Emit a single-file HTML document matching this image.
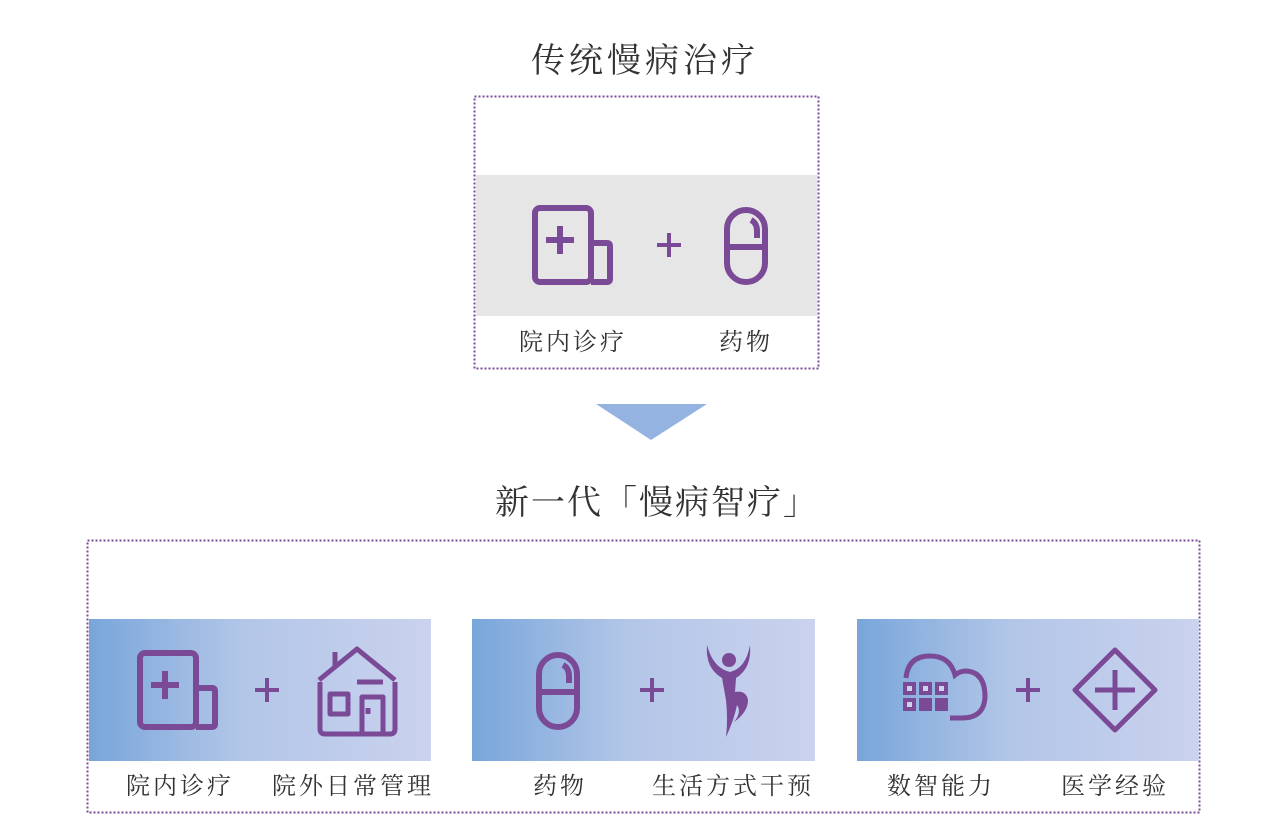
<!DOCTYPE html>
<html><head><meta charset="utf-8"><style>
html,body{margin:0;padding:0;background:#fff;}
svg{display:block}
text{font-family:"Liberation Serif","Noto Serif CJK SC","Noto Sans CJK SC",serif;fill:#333;}
</style></head><body>
<svg width="1269" height="827" viewBox="0 0 1269 827" xmlns="http://www.w3.org/2000/svg">
<defs>
<linearGradient id="g" x1="0" x2="1" y1="0" y2="0">
<stop offset="0" stop-color="#78a6da"/>
<stop offset="0.45" stop-color="#b3c6e8"/>
<stop offset="1" stop-color="#cad2ee"/>
</linearGradient>
<g id="hosp" fill="none" stroke="#7b4a97" stroke-width="6" stroke-linejoin="round">
<rect x="3" y="3" width="56" height="74" rx="5"/>
<path d="M59 38 H75 Q78 38 78 41 V74 Q78 77 75 77 H59"/>
<path d="M14 35 H42 M28 21 V49"/>
</g>
<g id="pill" fill="none" stroke="#7b4a97" stroke-width="6">
<rect x="3" y="3" width="38" height="72" rx="19"/>
<path d="M3 40 H41"/>
<path d="M27 13 Q33 16 33 24 V31"/>
</g>
</defs>
<text x="645" y="72" font-size="34" text-anchor="middle" letter-spacing="4">传统慢病治疗</text>
<rect x="474.5" y="96.5" width="344" height="272" fill="none" stroke="#7b4a97" stroke-width="2" stroke-dasharray="2 2"/>
<rect x="476" y="175" width="341" height="141" fill="#e6e6e6"/>
<use href="#hosp" x="532" y="205"/>
<path d="M657 245 H681 M669 233 V257" stroke="#7b4a97" stroke-width="4"/>
<use href="#pill" x="724" y="207"/>
<text x="573" y="350" font-size="24" text-anchor="middle" letter-spacing="3">院内诊疗</text>
<text x="746" y="350" font-size="24" text-anchor="middle" letter-spacing="3">药物</text>
<polygon points="596,404 707,404 651,440" fill="#95b3e0"/>
<text x="657" y="514" font-size="34" text-anchor="middle" letter-spacing="2">新一代「慢病智疗」</text>
<rect x="87.5" y="540.5" width="1112" height="272" fill="none" stroke="#7b4a97" stroke-width="2" stroke-dasharray="2 2"/>
<rect x="89" y="619" width="342" height="142" fill="url(#g)"/>
<rect x="472" y="619" width="343" height="142" fill="url(#g)"/>
<rect x="857" y="619" width="342" height="142" fill="url(#g)"/>
<use href="#hosp" x="137" y="650"/>
<path d="M255 690 H279 M267 678 V702" stroke="#7b4a97" stroke-width="4"/>
<g fill="none" stroke="#7b4a97" stroke-width="5" stroke-linejoin="round">
<path d="M319 680 L357 649 L395 680"/>
<path d="M335 666 V652"/>
<path d="M320 682 V729 Q320 734 325 734 H390 Q395 734 395 729 V682"/>
<path d="M357 682 H383"/>
<rect x="330" y="694" width="18" height="20"/>
<path d="M362 734 V697 H383 V734"/>
<path d="M368 708 V714"/>
</g>
<use href="#pill" x="536" y="652"/>
<path d="M640 690 H664 M652 678 V702" stroke="#7b4a97" stroke-width="4"/>
<g fill="#7b4a97">
<circle cx="729" cy="660" r="7"/>
<path d="M707 645 Q705 668 722 678 L726 700 Q728 720 726 737 Q734 720 737 705 Q742 712 734 722 Q748 712 748 700 Q746 690 735 692 L736 678 Q752 668 750 645 Q746 668 730 672 Q713 668 707 645Z"/>
</g>
<g fill="none" stroke="#7b4a97" stroke-width="5">
<path d="M906 678 Q908 656 930 656 Q950 656 955 675 Q960 671 966 671 Q985 672 985 697 Q984 718 962 718 H950"/>
</g>
<g fill="#7b4a97">
<rect x="903" y="682" width="13" height="13"/><rect x="919" y="682" width="13" height="13"/><rect x="935" y="682" width="13" height="13"/>
<rect x="903" y="698" width="13" height="13"/><rect x="919" y="698" width="13" height="13"/><rect x="935" y="698" width="13" height="13"/>
</g>
<g fill="#cbd2ec"><rect x="907" y="686" width="5" height="5"/><rect x="923" y="686" width="5" height="5"/><rect x="939" y="686" width="5" height="5"/><rect x="907" y="702" width="5" height="5"/></g>
<path d="M1016 690 H1040 M1028 678 V702" stroke="#7b4a97" stroke-width="4"/>
<g fill="none" stroke="#7b4a97" stroke-width="5" stroke-linejoin="round">
<path d="M1115 650 L1155 690 L1115 730 L1075 690 Z"/>
<path d="M1095 690 H1135 M1115 670 V710"/>
</g>
<text x="180" y="794" font-size="24" text-anchor="middle" letter-spacing="3">院内诊疗</text>
<text x="353" y="794" font-size="24" text-anchor="middle" letter-spacing="3">院外日常管理</text>
<text x="560" y="794" font-size="24" text-anchor="middle" letter-spacing="3">药物</text>
<text x="733" y="794" font-size="24" text-anchor="middle" letter-spacing="3">生活方式干预</text>
<text x="941" y="794" font-size="24" text-anchor="middle" letter-spacing="3">数智能力</text>
<text x="1115" y="794" font-size="24" text-anchor="middle" letter-spacing="3">医学经验</text>
</svg>
</body></html>
